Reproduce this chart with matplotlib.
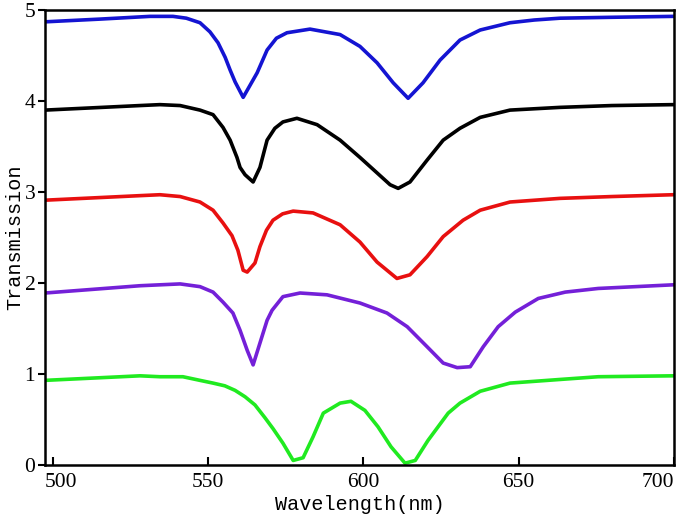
import matplotlib
matplotlib.use("Agg")
import matplotlib.pyplot as plt
import matplotlib.transforms as mtransforms

# ------------------------------------------------
# data (wavelength nm, transmission)
# ------------------------------------------------
blue_x = [497.5, 515.2, 531.3, 538.7, 543.0, 547.4, 550.6, 553.2, 555.5, 557.1,
          558.7, 561.3, 565.8, 569.0, 572.0, 575.4, 582.8, 592.5, 598.9, 604.4,
          609.6, 614.4, 619.2, 624.7, 631.1, 637.6, 647.2, 655.0, 663.3, 680.0,
          699.7]
blue_y = [4.87, 4.90, 4.93, 4.93, 4.91, 4.86, 4.76, 4.64, 4.48, 4.34,
          4.21, 4.04, 4.31, 4.56, 4.69, 4.75, 4.79, 4.73, 4.60, 4.42,
          4.20, 4.03, 4.20, 4.45, 4.67, 4.78, 4.86, 4.89, 4.91, 4.92,
          4.93]

black_x = [497.5, 528.1, 534.5, 541.0, 547.4, 551.6, 554.8, 557.1, 559.3, 560.3,
           561.9, 564.5, 566.7, 569.0, 571.5, 574.1, 578.6, 585.1, 592.5, 598.9,
           604.4, 608.6, 611.2, 615.0, 620.5, 625.7, 631.1, 637.6, 647.2, 663.3,
           680.0, 699.7]
black_y = [3.90, 3.95, 3.96, 3.95, 3.90, 3.85, 3.71, 3.57, 3.38, 3.27,
           3.19, 3.11, 3.27, 3.57, 3.70, 3.77, 3.81, 3.74, 3.57, 3.38,
           3.21, 3.08, 3.04, 3.11, 3.35, 3.57, 3.70, 3.82, 3.90, 3.93,
           3.95, 3.96]

red_x = [497.5, 528.1, 534.5, 541.0, 547.4, 551.6, 554.8, 557.7, 559.6, 561.3,
         562.6, 565.1, 566.7, 568.8, 570.9, 574.0, 577.4, 583.8, 592.5, 598.9,
         604.4, 610.8, 615.0, 620.5, 625.7, 632.1, 637.6, 647.2, 663.3, 680.0,
         699.7]
red_y = [2.91, 2.96, 2.97, 2.95, 2.89, 2.80, 2.66, 2.52, 2.36, 2.14,
         2.12, 2.22, 2.40, 2.58, 2.69, 2.76, 2.79, 2.77, 2.64, 2.45,
         2.23, 2.05, 2.09, 2.29, 2.51, 2.69, 2.80, 2.89, 2.93, 2.95,
         2.97]

purple_x = [497.5, 528.1, 534.5, 541.0, 547.4, 551.6, 554.8, 558.0, 560.3, 562.6,
            564.5, 566.7, 569.0, 570.6, 574.1, 579.6, 588.3, 598.9, 607.6, 614.1,
            620.5, 625.7, 630.2, 634.4, 638.6, 643.4, 648.9, 656.3, 665.0, 675.6,
            699.7]
purple_y = [1.89, 1.97, 1.98, 1.99, 1.96, 1.90, 1.79, 1.67, 1.48, 1.26,
            1.10, 1.34, 1.59, 1.70, 1.85, 1.89, 1.87, 1.78, 1.67, 1.52,
            1.30, 1.12, 1.07, 1.08, 1.30, 1.52, 1.68, 1.83, 1.90, 1.94,
            1.98]

green_x = [497.5, 528.1, 534.5, 541.9, 547.4, 551.6, 555.4, 558.7, 561.9, 565.1,
           568.3, 570.9, 574.1, 577.4, 580.6, 583.8, 587.1, 592.5, 596.0, 600.5,
           604.7, 608.9, 613.4, 616.7, 620.8, 627.3, 631.1, 637.6, 647.2, 663.3,
           675.6, 699.7]
green_y = [0.93, 0.98, 0.97, 0.97, 0.93, 0.90, 0.87, 0.82, 0.75, 0.66,
           0.52, 0.40, 0.24, 0.05, 0.08, 0.31, 0.57, 0.68, 0.70, 0.60,
           0.42, 0.20, 0.02, 0.05, 0.27, 0.57, 0.68, 0.81, 0.90, 0.94,
           0.97, 0.98]

x_ticks = [500, 550, 600, 650, 700]
y_ticks = [0, 1, 2, 3, 4, 5]

# ------------------------------------------------
# plot
# ------------------------------------------------
fig = plt.figure(figsize=(6.85, 5.24), dpi=100)
ax = fig.add_axes([45 / 685, 1 - 465 / 524, 629 / 685, 455 / 524])

lw = 2.6
ax.plot(blue_x, blue_y, color="#1414d2", lw=lw)
ax.plot(black_x, black_y, color="black", lw=lw)
ax.plot(red_x, red_y, color="#e81010", lw=lw)
ax.plot(purple_x, purple_y, color="#7420d8", lw=lw)
ax.plot(green_x, green_y, color="#20ea20", lw=lw)

ax.set_xlim(497.5, 700)
ax.set_ylim(0, 5)
ax.set_xticks(x_ticks)
ax.set_yticks(y_ticks)

tick_font = {"family": "Liberation Serif", "size": 15.5}
ax.set_xticklabels([str(v) for v in x_ticks], fontdict=tick_font)
ax.set_yticklabels([str(v) for v in y_ticks], fontdict=tick_font)

ax.tick_params(axis="x", direction="in", length=6, width=1.5, pad=6)
ax.tick_params(axis="y", direction="out", length=5, width=1.5, pad=2)
for s in ax.spines.values():
    s.set_linewidth(1.8)

# end labels sit inside the frame, like the original
xl = ax.get_xticklabels()
xl[0].set_ha("left")
xl[0].set_transform(xl[0].get_transform() +
                    mtransforms.ScaledTranslation(-8 / 100, 0, fig.dpi_scale_trans))
xl[-1].set_ha("right")

label_font = {"family": "Liberation Mono", "size": 14.5}
ax.set_xlabel("Wavelength(nm)", fontdict=label_font, labelpad=2)
ax.set_ylabel("Transmission", fontdict=label_font, labelpad=0)

fig.savefig("out.png", dpi=100)
